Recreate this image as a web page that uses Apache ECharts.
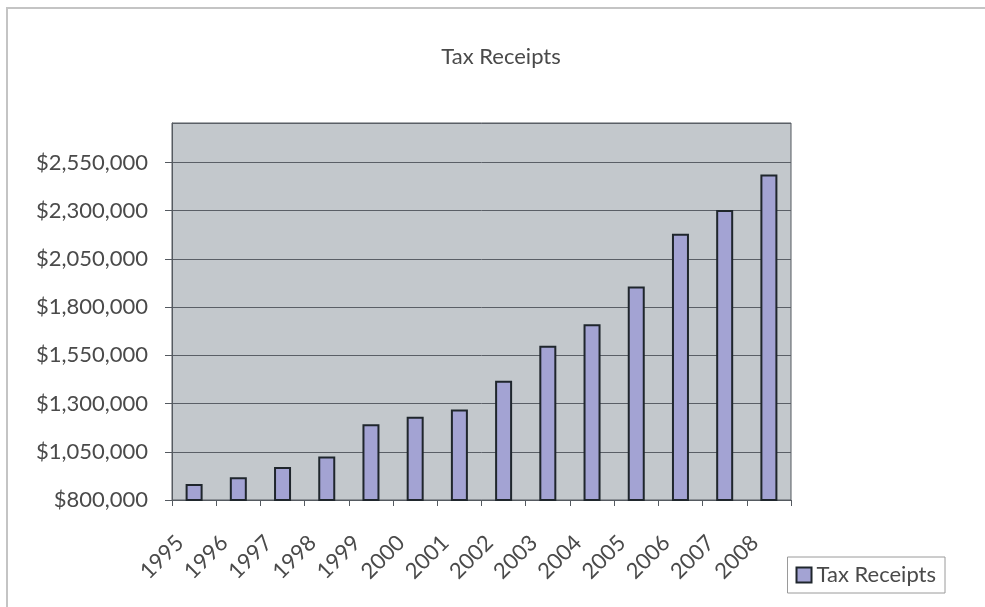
<!DOCTYPE html>
<html>
<head>
<meta charset="utf-8">
<script src="https://cdn.jsdelivr.net/npm/echarts@6/dist/echarts.min.js"></script>
<style>
  html, body { margin: 0; padding: 0; background: #ffffff; }
  #chart { width: 985px; height: 607px; }
</style>
</head>
<body>
<div id="chart"></div>
<script>
// Annual tax receipts, 1995–2008
const years = ['1995', '1996', '1997', '1998', '1999', '2000', '2001',
               '2002', '2003', '2004', '2005', '2006', '2007', '2008'];
const receipts = [883000, 918000, 971000, 1025000, 1193000, 1232000, 1269000,
                  1419000, 1600000, 1711000, 1907000, 2181000, 2304000, 2488000];
const seriesName = 'Tax Receipts';
const yMin = 800000;
const yMax = 2755000;
const yStep = 250000;

const FONT = 'Lato, "Open Sans", sans-serif';
const TEXT = '#4a4a4a';

const chart = echarts.init(document.getElementById('chart'), null, { renderer: 'canvas' });

function money(v) {
  return '$' + v.toLocaleString('en-US');
}

chart.setOption({
  animation: false,
  backgroundColor: '#ffffff',
  title: {
    text: seriesName,
    left: 496,
    top: 41,
    textAlign: 'center',
    textStyle: { fontFamily: FONT, fontSize: 22, fontWeight: 'normal', color: TEXT }
  },
  legend: {
    data: [seriesName],
    right: 40,
    top: 557,
    itemWidth: 15,
    itemHeight: 15,
    itemGap: 6,
    padding: [7, 9, 7, 8],
    borderColor: '#9a9a9a',
    borderWidth: 1,
    icon: 'rect',
    textStyle: { fontFamily: FONT, fontSize: 22, color: TEXT }
  },
  grid: {
    left: 172,
    right: 194,
    top: 123,
    bottom: 107,
    show: true,
    backgroundColor: '#c3c8cc',
    borderColor: '#555a60',
    borderWidth: 1
  },
  xAxis: {
    type: 'category',
    data: years,
    boundaryGap: true,
    axisLine: { lineStyle: { color: '#555a60', width: 1 } },
    axisTick: { show: true, length: 6, lineStyle: { color: '#555a60' } },
    axisLabel: {
      rotate: 45,
      margin: 25,
      interval: 0,
      padding: [0, 20, 0, 0],
      fontFamily: FONT,
      fontSize: 22,
      color: TEXT
    }
  },
  yAxis: {
    type: 'value',
    min: yMin,
    max: yMax,
    interval: yStep,
    axisLine: { show: true, lineStyle: { color: '#555a60', width: 1 } },
    axisTick: { show: true, length: 7, lineStyle: { color: '#555a60' } },
    axisLabel: {
      showMaxLabel: false,
      margin: 24,
      fontFamily: FONT,
      fontSize: 22,
      color: TEXT,
      formatter: function (v) { return v > 2600000 ? '' : money(v); }
    },
    splitLine: { show: true, lineStyle: { color: '#5a5f66', width: 1 } }
  },
  series: [{
    name: seriesName,
    type: 'bar',
    data: receipts,
    barWidth: 17,
    itemStyle: {
      color: '#a3a3d3',
      borderColor: '#1f262c',
      borderWidth: 2
    }
  }],
  graphic: [{
    // thin frame around the chart area
    type: 'polyline',
    shape: { points: [[7, 607], [7, 8], [985, 8]] },
    style: { stroke: '#c4c4c4', lineWidth: 2, fill: null },
    silent: true
  }]
});
</script>
</body>
</html>
